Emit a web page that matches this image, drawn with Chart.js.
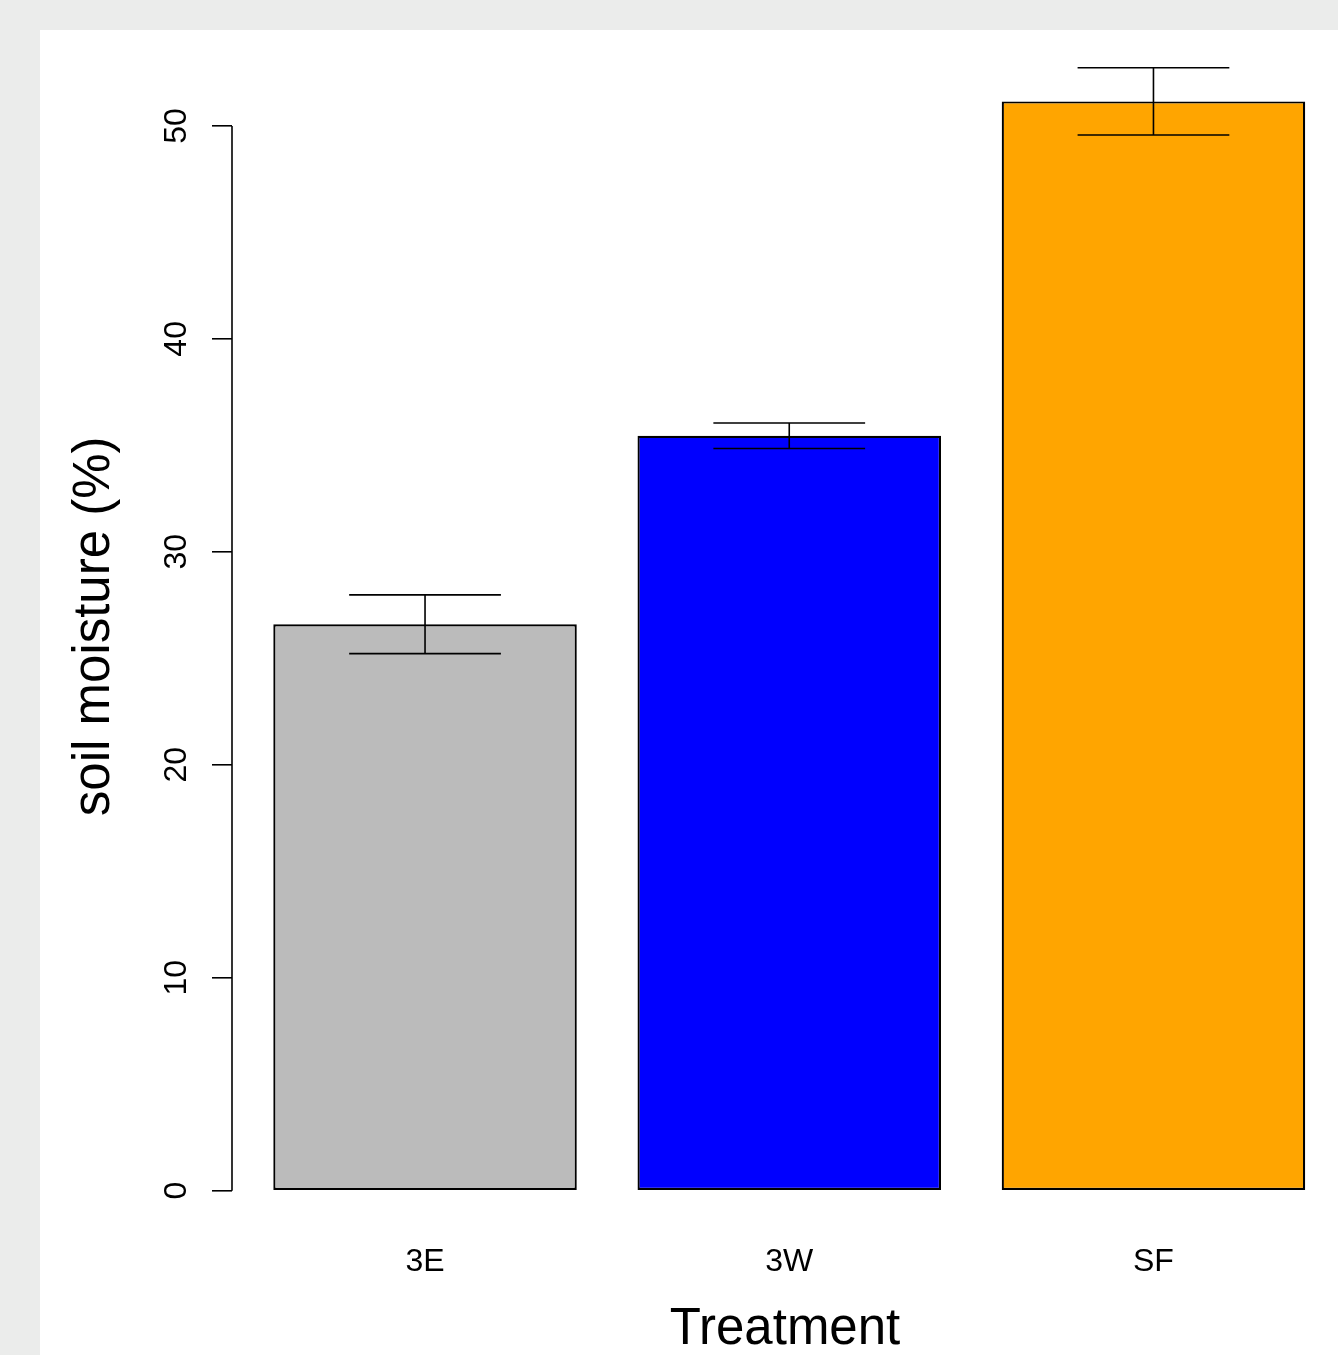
<!DOCTYPE html>
<html>
<head>
<meta charset="utf-8">
<script src="https://cdn.jsdelivr.net/npm/chart.js@4.4.0/dist/chart.umd.min.js"></script>
<style>
  body { margin: 0; background: #ebeceb; overflow: hidden; }
  #paper { position: absolute; left: 40px; top: 30px; width: 1298px; height: 1325px; background: #fff; }
  #myChart { position: absolute; left: 0; top: 0; }
</style>
</head>
<body>
<div id="paper"></div>
<canvas id="myChart" width="1338" height="1355"></canvas>
<script>
const categories = ['3E', '3W', 'SF'];
const moisture = [26.6, 35.45, 51.15];
const stdErr = [1.38, 0.6, 1.58];
const barColors = ['#bbbbbb', '#0000ff', '#ffa500'];
const yTicks = [0, 10, 20, 30, 40, 50];

// barplot style layout: bar width 1, gap 0.2
const barPos = categories.map((c, i) => 0.7 + 1.2 * i);

const errorBars = {
  id: 'errorBars',
  afterDatasetsDraw(chart) {
    const ctx = chart.ctx;
    const y = chart.scales.y;
    const meta = chart.getDatasetMeta(0);
    ctx.save();
    ctx.strokeStyle = '#000';
    ctx.lineWidth = 1.6;
    meta.data.forEach((bar, i) => {
      const top = y.getPixelForValue(moisture[i] + stdErr[i]);
      const bot = y.getPixelForValue(moisture[i] - stdErr[i]);
      const half = bar.width / 4;
      ctx.beginPath();
      ctx.moveTo(bar.x, top); ctx.lineTo(bar.x, bot);
      ctx.moveTo(bar.x - half, top); ctx.lineTo(bar.x + half, top);
      ctx.moveTo(bar.x - half, bot); ctx.lineTo(bar.x + half, bot);
      ctx.stroke();
    });
    // axis line only over the tick range
    const x0 = chart.chartArea.left;
    ctx.beginPath();
    ctx.moveTo(x0, y.getPixelForValue(yTicks[0]));
    ctx.lineTo(x0, y.getPixelForValue(yTicks[yTicks.length - 1]));
    ctx.stroke();
    ctx.restore();
  }
};

const data = {
  datasets: [{
    data: barPos.map((p, i) => ({ x: p, y: moisture[i] })),
    backgroundColor: barColors,
    borderColor: '#000',
    borderWidth: 2.2,
    borderSkipped: false,
    categoryPercentage: 1,
    barPercentage: 1 / 1.2
  }]
};

const config = {
  type: 'bar',
  data: data,
  options: {
    responsive: false,
    animation: false,
    layout: { padding: { top: 62, right: 0, left: 0, bottom: 0 } },
    plugins: { legend: { display: false }, tooltip: { enabled: false } },
    scales: {
      x: {
        type: 'linear',
        offset: false,
        min: 0.064,
        max: 3.708,
        afterBuildTicks: (scale) => { scale.ticks = barPos.map(v => ({ value: v })); },
        afterFit: (scale) => { scale.height = 164.3; },
        grid: { display: false, drawTicks: false, offset: false },
        border: { display: false },
        ticks: {
          autoSkip: false,
          padding: 52,
          color: '#000',
          font: { family: 'Liberation Sans', size: 32 },
          callback: (v, i) => categories[i]
        },
        title: {
          display: true,
          text: 'Treatment',
          color: '#000',
          font: { family: 'Liberation Sans', size: 51, lineHeight: 1 },
          padding: 0
        }
      },
      y: {
        min: 0,
        max: 53,
        afterBuildTicks: (scale) => { scale.ticks = yTicks.map(v => ({ value: v })); },
        afterFit: (scale) => { scale.width = 232; },
        grid: { display: true, drawOnChartArea: false, drawTicks: true, tickLength: 20, color: '#000', lineWidth: 1.6 },
        border: { display: false },
        ticks: {
          minRotation: 90,
          maxRotation: 90,
          crossAlign: 'center',
          padding: 17,
          color: '#000',
          font: { family: 'Liberation Sans', size: 32 }
        },
        title: {
          display: true,
          text: 'soil moisture (%)',
          color: '#000',
          font: { family: 'Liberation Sans', size: 51, lineHeight: 1 },
          padding: { top: 69, bottom: 0 }
        }
      }
    }
  },
  plugins: [errorBars]
};

const myChart = new Chart(document.getElementById('myChart'), config);
</script>
</body>
</html>
